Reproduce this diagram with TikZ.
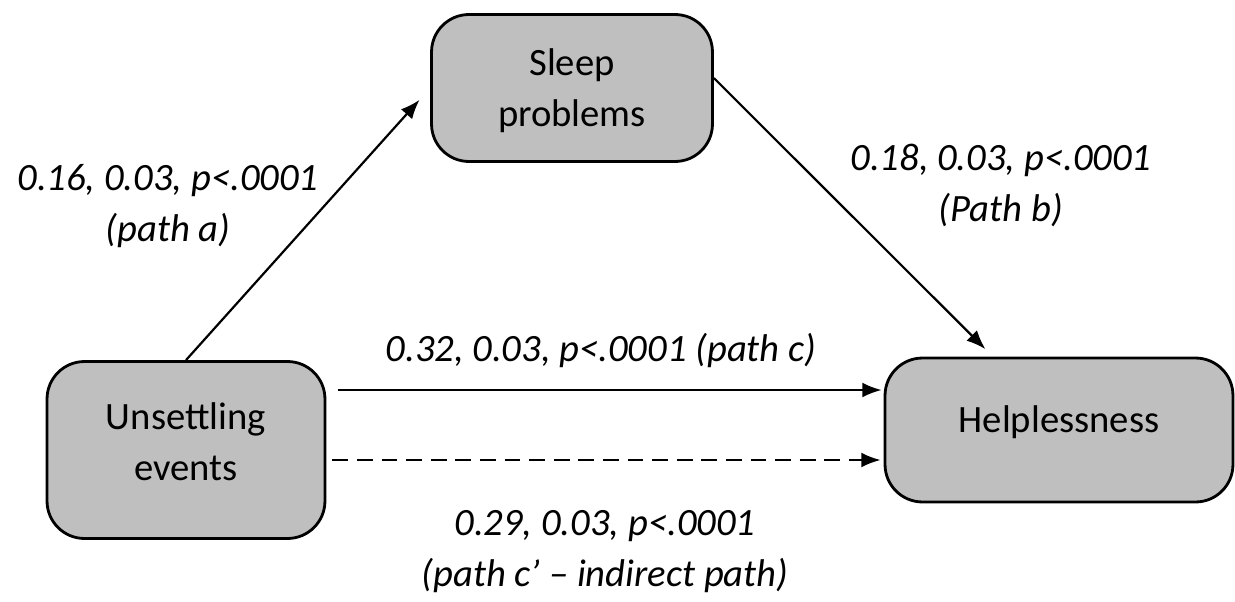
\documentclass[tikz,border=0pt]{standalone}
\usepackage{fontspec}
\setmainfont{Carlito}
\usepackage{tikz}
\usetikzlibrary{arrows.meta}

\begin{document}
\begin{tikzpicture}[
  x=0.02cm, y=-0.02cm,
  var/.style={draw=black, fill=black!25, line width=1.6pt, rounded corners=0.75cm,
    align=center, font=\fontsize{22}{29}\selectfont, inner sep=0pt},
  coef/.style={align=center, font=\fontsize{22}{29}\selectfont\itshape},
  patharrow/.style={-{Latex[length=11pt,width=8.5pt]}, line width=1.25pt}
]
  \useasboundingbox (0,0) rectangle (1235,602);

  \node[var, minimum width=5.56cm, minimum height=3.54cm, text depth=10pt] (unsettle) at (186,450) {Unsettling\\events};
  \node[var, minimum width=5.62cm, minimum height=2.94cm, text depth=0pt] (sleep) at (572,88) {Sleep\\problems};
  \node[var, minimum width=6.96cm, minimum height=2.88cm, text depth=13pt] (help) at (1059,430) {Helplessness};

  % a
  \draw[patharrow, shorten >=9] (unsettle.north) -- (sleep.west);
  \node[coef] (labela) at (168,206) {0.16, 0.03, p<.0001\\(path a)};
  % b
  \draw[patharrow, shorten >=6] (sleep.4) -- (help.132.5);
  \node[coef] (labelb) at (1001,185) {0.18, 0.03, p<.0001\\(Path b)};
  % c
  \coordinate (cstart) at ([xshift=0.24cm, yshift=1.2cm]unsettle.east);
  \coordinate (cend) at ([xshift=-0.04cm]cstart -| help.west);
  \draw[patharrow] (cstart) -- (cend);
  \node[coef] (labelc) at (601,350) {0.32, 0.03, p<.0001 (path c)};
  % c'
  \coordinate (dstart) at ([xshift=0.12cm, yshift=-0.2cm]unsettle.east);
  \coordinate (dend) at ([xshift=-0.06cm]dstart -| help.west);
  \draw[patharrow, dashed, dash pattern=on 9pt off 5pt] (dstart) -- (dend);
  \node[coef] (labeld) at (605,552) {0.29, 0.03, p<.0001\\(path c’ – indirect path)};

\end{tikzpicture}
\end{document}
